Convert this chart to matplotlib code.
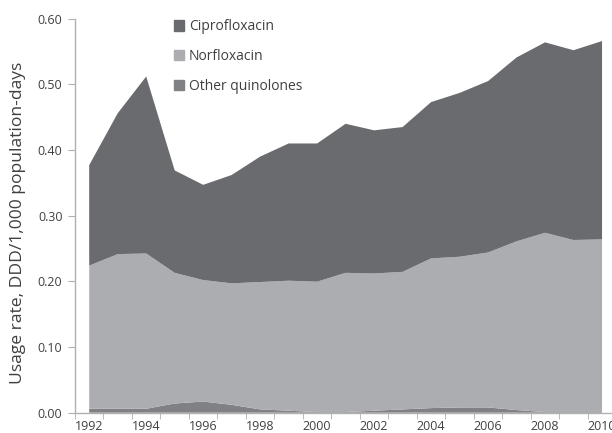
import matplotlib
matplotlib.use("Agg")
import matplotlib.pyplot as plt
from matplotlib.patches import Patch

years = list(range(1992, 2011))
other = [0.006, 0.006, 0.006, 0.014, 0.017, 0.012, 0.005, 0.003, 0.001, 0.001,
         0.003, 0.005, 0.007, 0.008, 0.008, 0.004, 0.001, 0.001, 0.001]
norflox_top = [0.224, 0.2415, 0.2425, 0.213, 0.202, 0.197, 0.199, 0.201, 0.1995, 0.213,
               0.212, 0.2145, 0.235, 0.2375, 0.244, 0.261, 0.274, 0.263, 0.264]
total = [0.377, 0.456, 0.512, 0.369, 0.347, 0.362, 0.390, 0.410, 0.410, 0.440,
         0.430, 0.435, 0.473, 0.487, 0.505, 0.541, 0.564, 0.552, 0.566]
norflox = [t - o for t, o in zip(norflox_top, other)]
cipro = [t - n for t, n in zip(total, norflox_top)]

labels = ["Other quinolones", "Norfloxacin", "Ciprofloxacin"]
colors = ["#808185", "#abadb0", "#6a6b6f"]
xticklabels = [str(y) for y in range(1992, 2011, 2)]

plt.rcParams['font.family'] = ['Open Sans', 'DejaVu Sans']

W, H = 612, 433
fig = plt.figure(figsize=(W / 100, H / 100), dpi=100)
ax = fig.add_axes([0.1225, 0.0469, 0.8845, 0.9099])
ax.stackplot(years, other, norflox, cipro, colors=colors, linewidth=0)

ax.set_xlim(1991.5, 2010.5)
ax.set_ylim(0, 0.6)
ax.set_yticks([0, 0.1, 0.2, 0.3, 0.4, 0.5, 0.6])
ax.set_yticklabels(["0.00", "0.10", "0.20", "0.30", "0.40", "0.50", "0.60"])
ax.set_xticks(list(range(1992, 2011, 2)))
ax.set_xticklabels(xticklabels)
ax.set_xticks([y + 0.5 for y in range(1991, 2011)], minor=True)
ax.tick_params(axis='x', which='major', length=0, pad=5, labelsize=9, colors='#404040')
ax.tick_params(axis='x', which='minor', length=4, color='#b0b0b0', direction='out')
ax.tick_params(axis='y', length=5, color='#b0b0b0', labelsize=9, colors='#404040', pad=4)
ax.tick_params(axis='y', color='#b0b0b0')

for s in ['top', 'right']:
    ax.spines[s].set_visible(False)
for s in ['left', 'bottom']:
    ax.spines[s].set_color('#b0b0b0')
    ax.spines[s].set_linewidth(1.0)

# y label: fit it to span from y=62 to y=383 (pixels from top), centred at x=18
ylab = fig.text(18 / W, 1 - 222.5 / H, "Usage rate, DDD/1,000 population-days",
                rotation=90, ha='center', va='center', fontsize=11.2, color='#404040')
fig.canvas.draw()
bb = ylab.get_window_extent()
ylab.set_fontsize(11.2 * (383 - 62) / bb.height)
fig.canvas.draw()
bb = ylab.get_window_extent()
cy = (bb.y0 + bb.y1) / 2
cx = (bb.x0 + bb.x1) / 2
ty = H - 222.5
tx = 18
px, py = ylab.get_position()
ylab.set_position((px + (tx - cx) / W, py + (ty - cy) / H))

handles = [Patch(color=colors[2]), Patch(color=colors[1]), Patch(color=colors[0])]
leg = ax.legend(handles, ["Ciprofloxacin", "Norfloxacin", "Other quinolones"],
                loc='upper left', bbox_to_anchor=(0.16, 1.03), frameon=False,
                fontsize=10, handlelength=0.75, handleheight=0.75,
                handletextpad=0.3, labelspacing=1.05)
for t in leg.get_texts():
    t.set_color('#404040')

fig.savefig("out.png", dpi=100)
